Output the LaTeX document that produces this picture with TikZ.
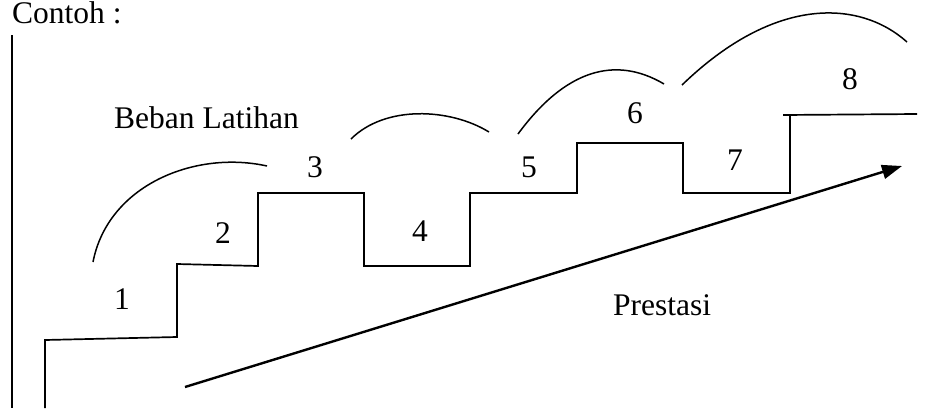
\documentclass[tikz,border=0pt]{standalone}
\usepackage{fontspec}
\setmainfont{Liberation Serif}
\usetikzlibrary{arrows.meta}
\begin{document}
\begin{tikzpicture}[x=1pt,y=-1pt,
  lbl/.style={inner sep=0pt, font=\fontsize{31.5}{38}\selectfont},
  stair/.style={line width=1.7pt, line join=miter},
  load/.style={line width=1.5pt},
  trend/.style={line width=2.4pt, -{Triangle[length=20pt,width=14pt]}}]
\useasboundingbox (0,0) rectangle (932,408);

% labels
\node[lbl, anchor=base west] (contoh) at (12,23) {Contoh :};
\node[lbl, anchor=base west] (beban) at (114,128) {Beban Latihan};
\node[lbl, anchor=base west] (prestasi) at (613,315) {Prestasi};
\node[lbl, anchor=base] (n1) at (122,309) {1};
\node[lbl, anchor=base] (n2) at (223,243) {2};
\node[lbl, anchor=base] (n3) at (315,177) {3};
\node[lbl, anchor=base] (n4) at (420,241) {4};
\node[lbl, anchor=base] (n5) at (529,177) {5};
\node[lbl, anchor=base] (n6) at (635,123) {6};
\node[lbl, anchor=base] (n7) at (735,170) {7};
\node[lbl, anchor=base] (n8) at (850,89) {8};

% left margin rule
\coordinate (axtop) at (12,35);
\coordinate (axbot) at (12,408);
\draw[stair] (axtop) -- (axbot);

% staircase of training loads
\draw[stair] (45,408) -- (45,340) -- (177,337) -- (177,264) -- (258,266)
  -- (258,193) -- (364,193) -- (364,266) -- (470,266) -- (470,193)
  -- (577,193) -- (577,143) -- (683,143) -- (683,193) -- (790,193)
  -- (790,115);
\draw[stair] (783,115) -- (917,114);

% arcs over the steps
\draw[load] (93,262) .. controls (108,185) and (195,150) .. (267,166);
\draw[load] (351,139) .. controls (385,105) and (450,108) .. (489,132);
\draw[load] (518,134) .. controls (565,70) and (615,55) .. (664,84);
\draw[load] (682,85) .. controls (775,-5) and (860,0) .. (907,42);

% performance trend
\coordinate (tstart) at (185,387);
\coordinate (tend) at (902,166);
\draw[trend] (tstart) -- (tend);
\end{tikzpicture}
\end{document}
